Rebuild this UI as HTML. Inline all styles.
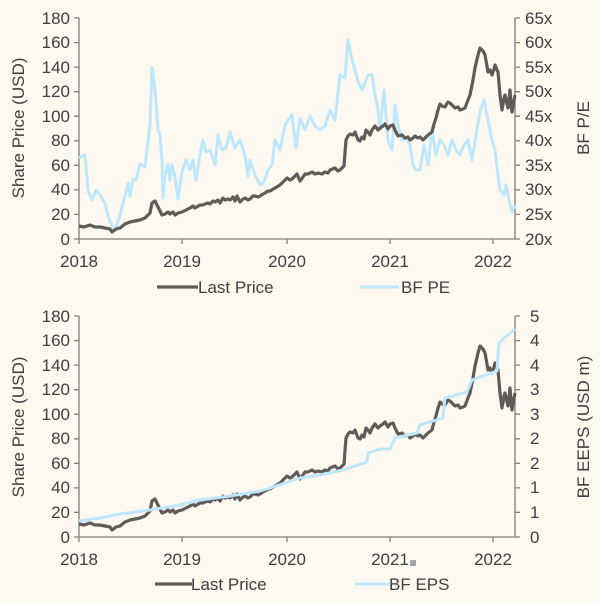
<!DOCTYPE html>
<html><head><style>
body{margin:0;background:#fdf8f0;}
text{font-family:"Liberation Sans",sans-serif;font-size:17px;fill:#404040;}
</style></head><body>
<svg width="600" height="600" xmlns="http://www.w3.org/2000/svg">
<rect width="600" height="600" fill="#fdf8f0"/>
<defs>
<polyline id="price" fill="none" stroke="#5f5b59" stroke-width="3.2" stroke-linejoin="round" points="79,226 84,227 90,225 95,227 100,227 105,228 110,229 112,232 116,229 120,228 125,224 130,222 135,221 140,220 145,218 150,213 152,203 155,201 158,207 162,215 165,214 168,212 170,214 173,212 175,215 178,213 182,212 186,210 190,208 193,206 195,208 200,205 203,205 205,204 208,203 210,204 213,201 215,202 218,200 220,203 223,198 225,200 228,199 230,200 233,197 235,201 237,196 240,202 243,199 245,198 248,200 250,199 253,196 255,196 258,197 260,196 263,194 265,193 268,191 270,191 275,188 280,185 284,181 287,178 290,180 292,179 295,176 297,174 300,181 303,177 305,174 308,174 312,172 315,174 318,173 322,174 325,172 328,173 330,170 335,168 338,171 340,170 344,166 346,140 348,136 350,134 353,135 355,132 358,140 360,141 362,137 364,139 366,130 368,132 370,135 372,130 375,126 378,130 380,128 383,126 385,124 388,129 390,126 393,125 395,130 398,136 402,135 405,138 408,137 410,140 413,138 415,136 418,138 420,137 423,140 426,137 428,135 432,132 434,124 436,118 438,110 440,104 442,106 445,107 448,102 450,103 453,106 455,108 458,107 460,110 463,109 465,108 468,100 470,95 473,80 475,68 478,55 480,48 483,51 485,55 487,66 488,72 490,70 492,75 494,69 495,65 497,70 498,72 500,95 502,110 504,98 505,95 507,104 508,108 510,90 511,105 512,112 514,100 515,95"/>
</defs>
<!-- TOP CHART -->
<g stroke="#808080" stroke-width="1.3" fill="none">
<line x1="79" y1="18" x2="79" y2="239"/><line x1="79" y1="239" x2="515" y2="239"/><line x1="515" y1="18" x2="515" y2="239"/>
<path d="M74,18h5M74,42.6h5M74,67.1h5M74,91.7h5M74,116.2h5M74,140.8h5M74,165.3h5M74,189.9h5M74,214.4h5M74,239h5"/>
<path d="M515,18h5M515,42.6h5M515,67.1h5M515,91.7h5M515,116.2h5M515,140.8h5M515,165.3h5M515,189.9h5M515,214.4h5M515,239h5"/>
<path d="M79,239v5M182,239v5M287,239v5M390,239v5M493,239v5"/>
</g>
<polyline fill="none" stroke="#bfe7fb" stroke-width="3" stroke-linejoin="round" points="79,158 85,155 88,190 92,200 96,190 100,195 105,203 108,216 112,226 115,229 118,222 122,207 126,192 128,183 130,196 133,179 136,180 140,164 145,167 147,150 150,125 152,67 155,90 158,130 160,135 162,160 163,198 165,175 168,164 170,180 172,165 175,177 178,199 182,172 186,160 190,170 193,160 196,180 200,155 203,140 206,152 210,150 215,165 218,135 222,150 226,148 230,132 235,148 240,140 245,155 248,176 250,160 255,175 260,185 264,182 268,170 272,165 275,140 280,150 285,125 288,120 292,115 296,148 300,118 305,130 310,116 315,126 320,130 325,126 330,110 335,120 340,75 345,78 348,40 352,60 355,70 358,82 362,90 368,75 372,75 375,95 378,110 380,130 384,90 388,140 392,150 395,105 398,125 402,140 406,138 410,145 413,165 416,170 420,170 424,145 428,165 432,130 436,155 440,140 444,145 448,155 452,140 456,150 460,155 464,145 468,140 472,160 476,135 480,112 484,100 488,120 492,140 495,150 498,175 500,190 504,195 506,185 509,200 512,212 515,205"/>
<use href="#price"/>
<g text-anchor="end">
<text x="70" y="24">180</text><text x="70" y="48">160</text><text x="70" y="73">140</text><text x="70" y="97">120</text><text x="70" y="122">100</text><text x="70" y="146">80</text><text x="70" y="171">60</text><text x="70" y="195">40</text><text x="70" y="220">20</text><text x="70" y="245">0</text>
</g>
<g text-anchor="start">
<text x="525" y="24">65x</text><text x="525" y="48">60x</text><text x="525" y="73">55x</text><text x="525" y="97">50x</text><text x="525" y="122">45x</text><text x="525" y="146">40x</text><text x="525" y="171">35x</text><text x="525" y="195">30x</text><text x="525" y="220">25x</text><text x="525" y="245">20x</text>
</g>
<g text-anchor="middle">
<text x="79" y="267">2018</text><text x="182" y="267">2019</text><text x="287" y="267">2020</text><text x="390" y="267">2021</text><text x="493" y="267">2022</text>
</g>
<text transform="translate(24,128) rotate(-90)" text-anchor="middle">Share Price (USD)</text>
<text transform="translate(589,128) rotate(-90)" text-anchor="middle">BF P/E</text>
<line x1="157" y1="287" x2="198" y2="287" stroke="#5f5b59" stroke-width="3.2"/>
<text x="198" y="293">Last Price</text>
<line x1="360" y1="287" x2="399" y2="287" stroke="#bfe7fb" stroke-width="3"/>
<text x="401" y="293">BF PE</text>
<!-- BOTTOM CHART -->
<g stroke="#808080" stroke-width="1.3" fill="none">
<line x1="79" y1="316" x2="79" y2="537"/><line x1="79" y1="537" x2="515" y2="537"/><line x1="515" y1="316" x2="515" y2="537"/>
<path d="M74,316h5M74,340.6h5M74,365.1h5M74,389.7h5M74,414.2h5M74,438.8h5M74,463.3h5M74,487.9h5M74,512.4h5M74,537h5"/>
<path d="M515,316h5M515,340.6h5M515,365.1h5M515,389.7h5M515,414.2h5M515,438.8h5M515,463.3h5M515,487.9h5M515,512.4h5M515,537h5"/>
<path d="M79,537v5M182,537v5M287,537v5M390,537v5M493,537v5"/>
</g>
<use href="#price" transform="translate(0,298)"/>
<polyline fill="none" stroke="#bfe7fb" stroke-width="3" stroke-linejoin="round" points="79,521 100,518 120,514 150,510 180,505 200,500 230,496 260,491 270,488 300,478 320,475 343,470 367,462 368,453 380,449 390,449 395,438 417,433 420,425 443,418 445,398 467,392 472,380 497,371 499,343 504,338 515,329"/>
<g text-anchor="end">
<text x="70" y="322">180</text><text x="70" y="346">160</text><text x="70" y="371">140</text><text x="70" y="395">120</text><text x="70" y="420">100</text><text x="70" y="444">80</text><text x="70" y="469">60</text><text x="70" y="493">40</text><text x="70" y="518">20</text><text x="70" y="543">0</text>
</g>
<g text-anchor="start">
<text x="530" y="322">5</text><text x="530" y="346">4</text><text x="530" y="371">4</text><text x="530" y="395">3</text><text x="530" y="420">3</text><text x="530" y="444">2</text><text x="530" y="469">2</text><text x="530" y="493">1</text><text x="530" y="518">1</text><text x="530" y="543">0</text>
</g>
<g text-anchor="middle">
<text x="79" y="565">2018</text><text x="182" y="565">2019</text><text x="287" y="565">2020</text><text x="390" y="565">2021</text><text x="493" y="565">2022</text>
</g>
<rect x="410" y="560" width="6" height="6" fill="#a0a6b0"/>
<text transform="translate(24,427) rotate(-90)" text-anchor="middle">Share Price (USD)</text>
<text transform="translate(589,427) rotate(-90)" text-anchor="middle">BF EEPS (USD m)</text>
<line x1="155" y1="584" x2="192" y2="584" stroke="#5f5b59" stroke-width="3.2"/>
<text x="191" y="590">Last Price</text>
<line x1="355" y1="584" x2="390" y2="584" stroke="#bfe7fb" stroke-width="3"/>
<text x="389" y="590">BF EPS</text>
</svg>
</body></html>
